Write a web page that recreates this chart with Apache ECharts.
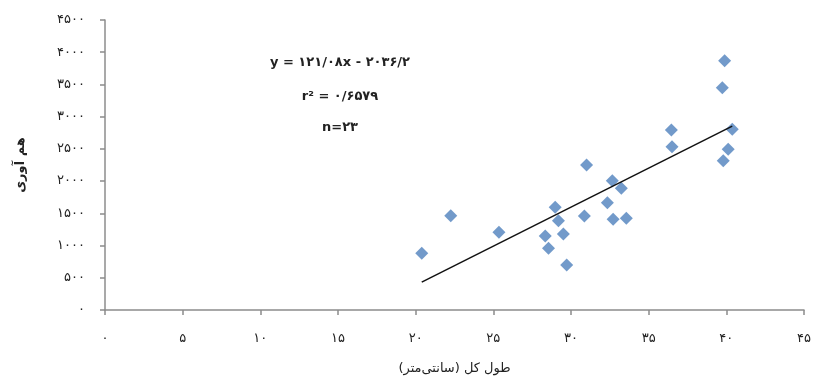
<!DOCTYPE html>
<html>
<head>
<meta charset="utf-8">
<script src="https://cdn.jsdelivr.net/npm/echarts@6/dist/echarts.min.js"></script>
<style>
  html, body { margin: 0; padding: 0; background: #fff; }
  #chart { width: 814px; height: 389px; }
</style>
</head>
<body>
<div id="chart"></div>
<script>
// Total length (cm) of each fish
const lengthCm = [20.39, 22.26, 25.36, 28.34, 28.55, 28.98, 29.19, 29.51, 29.72, 30.86, 31.00, 32.34,
                  32.66, 32.71, 33.24, 33.56, 36.46, 36.50, 39.89, 39.74, 40.38, 40.12, 39.80];
// Fecundity (egg count) of each fish
const fecundity = [880, 1463, 1206, 1148, 957, 1594, 1386, 1179, 698, 1459, 2250, 1665,
                   2006, 1407, 1888, 1423, 2793, 2534, 3868, 3449, 2804, 2494, 2317];

// Linear fit reported on the chart
const slope = 121.08;
const intercept = -2036.2;
const statLines = ['y = ۱۲۱/۰۸x - ۲۰۳۶/۲', 'r² = ۰/۶۵۷۹', 'n=۲۳'];

// Axis ranges and tick labels
const xTicks = [0, 5, 10, 15, 20, 25, 30, 35, 40, 45];
const yTicks = [0, 500, 1000, 1500, 2000, 2500, 3000, 3500, 4000, 4500];
const xTitle = 'طول کل (سانتی‌متر)';
const yTitle = 'هم آوری';

const faDigits = '۰۱۲۳۴۵۶۷۸۹';
const toFa = v => String(v).replace(/[0-9]/g, d => faDigits[+d]);

const points = lengthCm.map((x, i) => [x, fecundity[i]]);
const xMin = Math.min(...lengthCm), xMax = Math.max(...lengthCm);
const fitLine = [[xMin, slope * xMin + intercept], [xMax, slope * xMax + intercept]];

const font = "'DejaVu Sans', sans-serif";
const axisColor = '#8c8c8c';

const chart = echarts.init(document.getElementById('chart'), null, { renderer: 'canvas' });
chart.setOption({
  animation: false,
  backgroundColor: '#ffffff',
  grid: { left: 105, right: 5, top: 20, bottom: 79, containLabel: false },
  xAxis: {
    type: 'value',
    min: xTicks[0], max: xTicks[xTicks.length - 1], interval: xTicks[1] - xTicks[0],
    name: xTitle, nameLocation: 'middle', nameGap: 52,
    nameTextStyle: { fontFamily: font, fontSize: 13, color: '#222' },
    axisLine: { show: true, lineStyle: { color: axisColor, width: 1.5 } },
    axisTick: { show: true, length: 5, lineStyle: { color: axisColor, width: 1.5 } },
    splitLine: { show: false },
    axisLabel: { margin: 22, fontFamily: font, fontSize: 13, color: '#222', formatter: v => toFa(v) }
  },
  yAxis: {
    type: 'value',
    min: yTicks[0], max: yTicks[yTicks.length - 1], interval: yTicks[1] - yTicks[0],
    name: yTitle, nameLocation: 'middle', nameGap: 78, nameRotate: 90,
    nameTextStyle: { fontFamily: font, fontSize: 13, fontWeight: 'bold', color: '#222' },
    axisLine: { show: true, lineStyle: { color: axisColor, width: 1.5 } },
    axisTick: { show: true, length: 5, lineStyle: { color: axisColor, width: 1.5 } },
    splitLine: { show: false },
    axisLabel: { margin: 20, fontFamily: font, fontSize: 13, color: '#222', formatter: v => toFa(v) }
  },
  series: [
    {
      type: 'scatter',
      data: points,
      symbol: 'diamond',
      symbolSize: 13,
      itemStyle: { color: '#4f81bd' },
      z: 3
    },
    {
      type: 'line',
      data: fitLine,
      symbol: 'none',
      lineStyle: { color: '#111', width: 1.5 },
      z: 4
    }
  ],
  graphic: statLines.map((t, i) => ({
    type: 'text',
    x: 340,
    y: [63, 97, 128][i],
    style: {
      text: t, fontFamily: font, fontSize: 13, fontWeight: 'bold', fill: '#222',
      align: 'center', verticalAlign: 'middle'
    }
  }))
});
</script>
</body>
</html>
